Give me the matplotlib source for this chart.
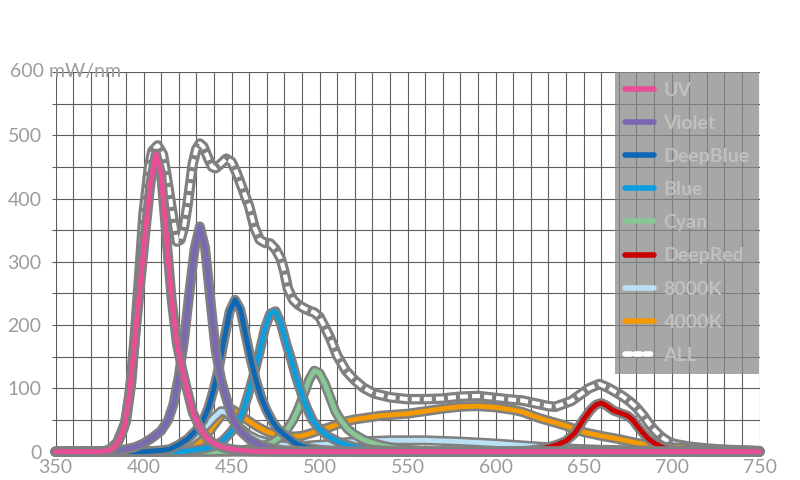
import matplotlib
matplotlib.use("Agg")
import matplotlib.pyplot as plt
import matplotlib.patheffects as pe
import matplotlib.transforms as mtransforms
from matplotlib.lines import Line2D
from matplotlib.ticker import MultipleLocator

plt.rcParams['font.family'] = ['Lato', 'DejaVu Sans']

# ---------------- data (wavelength nm, mW/nm) ----------------
uv_nm  = [350, 375, 380, 383, 386, 389, 392, 395, 398, 401, 404, 407, 410, 413, 416, 419, 422, 425, 428, 432, 436, 440, 445, 450, 460, 470, 750]
uv_val = [0, 0, 2, 6, 18, 38, 90, 175, 260, 345, 425, 471, 440, 340, 240, 170, 130, 95, 62, 38, 22, 13, 7, 4, 1, 0, 0]

violet_nm  = [350, 380, 385, 390, 395, 400, 405, 410, 414, 417, 420, 423, 426, 429, 432, 435, 438, 441, 444, 447, 451, 455, 460, 465, 470, 475, 480, 490, 500, 750]
violet_val = [0, 0, 2, 4, 7, 13, 22, 33, 50, 75, 118, 175, 250, 320, 356, 322, 240, 160, 115, 85, 50, 33, 20, 12, 7, 4, 2, 1, 0, 0]

deepblue_nm  = [350, 400, 405, 410, 415, 420, 425, 430, 434, 437, 440, 443, 446, 449, 452, 455, 458, 461, 464, 467, 470, 473, 476, 480, 486, 490, 495, 500, 510, 520, 750]
deepblue_val = [0, 0, 1, 2, 4, 11, 20, 34, 50, 70, 100, 135, 180, 222, 240, 225, 185, 145, 112, 85, 65, 49, 37, 27, 14, 9, 5, 3, 1, 0, 0]

blue_nm  = [350, 420, 425, 430, 435, 440, 445, 450, 454, 457, 460, 463, 466, 469, 472, 475, 478, 481, 484, 487, 490, 493, 496, 500, 505, 512, 520, 530, 540, 550, 750]
blue_val = [0, 0, 1, 3, 5, 9, 17, 32, 48, 68, 95, 125, 158, 195, 218, 222, 203, 172, 145, 115, 90, 68, 50, 36, 24, 14, 7, 3, 1, 0, 0]

cyan_nm  = [350, 440, 450, 455, 460, 465, 470, 473, 476, 479, 482, 485, 488, 491, 494, 497, 500, 503, 506, 509, 512, 516, 520, 525, 530, 535, 540, 545, 550, 560, 570, 750]
cyan_val = [0, 0, 1, 2, 4, 7, 11, 14, 20, 27, 37, 50, 68, 90, 113, 128, 124, 108, 86, 64, 50, 36, 27, 19, 14, 10, 7, 5, 3, 1, 0, 0]

deepred_nm  = [350, 600, 615, 620, 625, 630, 635, 640, 645, 650, 654, 657, 660, 663, 667, 671, 675, 678, 681, 684, 687, 690, 694, 698, 705, 715, 750]
deepred_val = [0, 0, 1, 2, 4, 7, 11, 17, 29, 51, 66, 74, 77, 73, 65, 61, 57, 50, 39, 29, 20, 14, 8, 4, 1, 0, 0]

k8000_nm  = [350, 400, 410, 415, 420, 425, 430, 435, 440, 444, 447, 450, 455, 460, 465, 470, 475, 480, 485, 490, 495, 500, 505, 510, 520, 530, 540, 560, 580, 600, 620, 640, 660, 680, 700, 720, 750]
k8000_val = [0, 0, 1, 3, 8, 15, 25, 39, 54, 64, 62, 53, 37, 26, 19, 15, 12, 10, 9, 9, 10, 11, 12, 14, 16, 17, 18, 18, 16, 13, 9, 5, 3, 2, 1, 0, 0]

k4000_nm  = [350, 420, 425, 430, 435, 440, 445, 448, 451, 455, 460, 465, 470, 475, 480, 485, 490, 495, 500, 505, 510, 515, 520, 525, 530, 535, 540, 550, 560, 570, 580, 590, 600, 610, 615, 620, 625, 630, 640, 650, 660, 670, 680, 690, 700, 710, 720, 730, 740, 750]
k4000_val = [0, 0, 3, 10, 23, 42, 60, 68, 66, 58, 48, 39, 32, 27, 25, 24, 25, 29, 34, 38, 43, 48, 51, 53, 55, 57, 58, 60, 64, 68, 71, 72, 70, 66, 63, 58, 53, 49, 41, 31, 25, 20, 14, 9, 7, 5, 4, 3, 2, 1]

all_nm  = [350, 375, 380, 385, 390, 393, 395, 397, 400, 403, 405, 408, 411, 414, 417, 419, 421, 423, 425, 428, 430, 432, 434, 437, 439, 441, 444, 447, 450, 453, 457, 460, 463, 466, 469, 472, 475, 478, 480, 482, 485, 488, 491, 494, 497, 500, 503, 506, 510, 515, 520, 525, 531, 540, 550, 560, 570, 580, 590, 600, 610, 615, 620, 625, 630, 634, 638, 643, 648, 653, 659, 664, 669, 672, 676, 680, 684, 687, 690, 694, 698, 702, 710, 720, 730, 740, 750]
all_val = [0, 0, 2, 14, 48, 110, 180, 255, 375, 448, 475, 484, 470, 420, 366, 332, 335, 355, 390, 455, 478, 487, 482, 462, 450, 448, 455, 463, 458, 440, 410, 388, 355, 335, 330, 329, 320, 305, 285, 258, 240, 232, 227, 223, 220, 213, 197, 180, 152, 128, 113, 101, 92, 86, 83, 83, 84, 87, 88, 85, 82, 81, 78, 75, 72, 71, 75, 80, 90, 100, 107, 101, 93, 88, 80, 70, 57, 45, 35, 24, 16, 12, 8, 5, 3, 2, 1]

series_names  = ["UV", "Violet", "DeepBlue", "Blue", "Cyan", "DeepRed", "8000K", "4000K", "ALL"]
series_colors = ["#e84f96", "#7a68b3", "#0c67b4", "#0b9fe0", "#86c795", "#cc0000", "#b9e1f5", "#f59a00", "#ffffff"]

x_ticks = [350, 400, 450, 500, 550, 600, 650, 700, 750]
y_ticks = [0, 100, 200, 300, 400, 500, 600]
y_tick_labels = ["0", "100", "200", "300", "400", "500", ""]
y_top_label = "600 mW/nm"

# ---------------- figure ----------------
fig = plt.figure(figsize=(8, 4.8), dpi=100)
ax = fig.add_axes([55.5 / 800, 28.3 / 480, 704 / 800, 379.7 / 480])
ax.set_xlim(350, 750)
ax.set_ylim(0, 600)

grid_col = "#5e5e5e"
ax.xaxis.set_minor_locator(MultipleLocator(10))
ax.yaxis.set_minor_locator(MultipleLocator(50))
ax.set_xticks(x_ticks)
ax.set_xticklabels([str(v) for v in x_ticks])
ax.set_yticks(y_ticks)
ax.set_yticklabels(y_tick_labels)
ax.grid(True, which="both", color=grid_col, linewidth=0.8)
ax.set_axisbelow(True)
for s in ax.spines.values():
    s.set_visible(False)

label_col = "#9c9c9c"
ax.tick_params(axis="x", which="both", length=0, pad=5, labelsize=14, labelcolor=label_col)
ax.tick_params(axis="y", which="both", length=3, width=0.8, color=grid_col, pad=7,
               labelsize=14, labelcolor=label_col)
ax.text(10 / 800, 1.0, y_top_label,
        transform=mtransforms.blended_transform_factory(fig.transFigure, ax.transAxes),
        fontsize=14, color=label_col, ha="left", va="center", clip_on=False)

outline = "#808080"

# ALL (drawn first, underneath)
ax.plot(all_nm, all_val, color=outline, lw=7.6, solid_capstyle="round", solid_joinstyle="round",
        clip_on=False, zorder=3)
ax.plot(all_nm, all_val, color="white", lw=3.0, dashes=(1.9, 1.0), dash_capstyle="butt",
        clip_on=False, zorder=3)

draw = [
    (k4000_nm, k4000_val, series_colors[7]),
    (k8000_nm, k8000_val, series_colors[6]),
    (deepred_nm, deepred_val, series_colors[5]),
    (cyan_nm, cyan_val, series_colors[4]),
    (blue_nm, blue_val, series_colors[3]),
    (deepblue_nm, deepblue_val, series_colors[2]),
    (violet_nm, violet_val, series_colors[1]),
    (uv_nm, uv_val, series_colors[0]),
]
for i, (xs, ys, c) in enumerate(draw):
    ax.plot(xs, ys, color=c, lw=3.5, solid_capstyle="round", solid_joinstyle="round",
            clip_on=False, zorder=4 + i,
            path_effects=[pe.Stroke(linewidth=7.2, foreground=outline, capstyle="round", joinstyle="round"),
                          pe.Normal()])

# legend
handles = []
for name, c in zip(series_names, series_colors):
    if name == "ALL":
        handles.append(Line2D([], [], color=c, lw=4.0, dashes=(1.0, 0.8), dash_capstyle="round"))
    else:
        handles.append(Line2D([], [], color=c, lw=4.0, solid_capstyle="round"))
leg = ax.legend(handles, series_names, loc="upper right", bbox_to_anchor=(1.0, 1.0),
                borderaxespad=0, frameon=True, fancybox=False,
                prop={"size": 14, "weight": "bold"},
                labelcolor="#c0c0c0", handlelength=1.5, handletextpad=0.5,
                labelspacing=0.83, borderpad=0.5)
frame = leg.get_frame()
frame.set_facecolor("#8a8a8a")
frame.set_alpha(0.75)
frame.set_edgecolor("none")
leg.set_zorder(20)

fig.savefig("out.png", dpi=100)
